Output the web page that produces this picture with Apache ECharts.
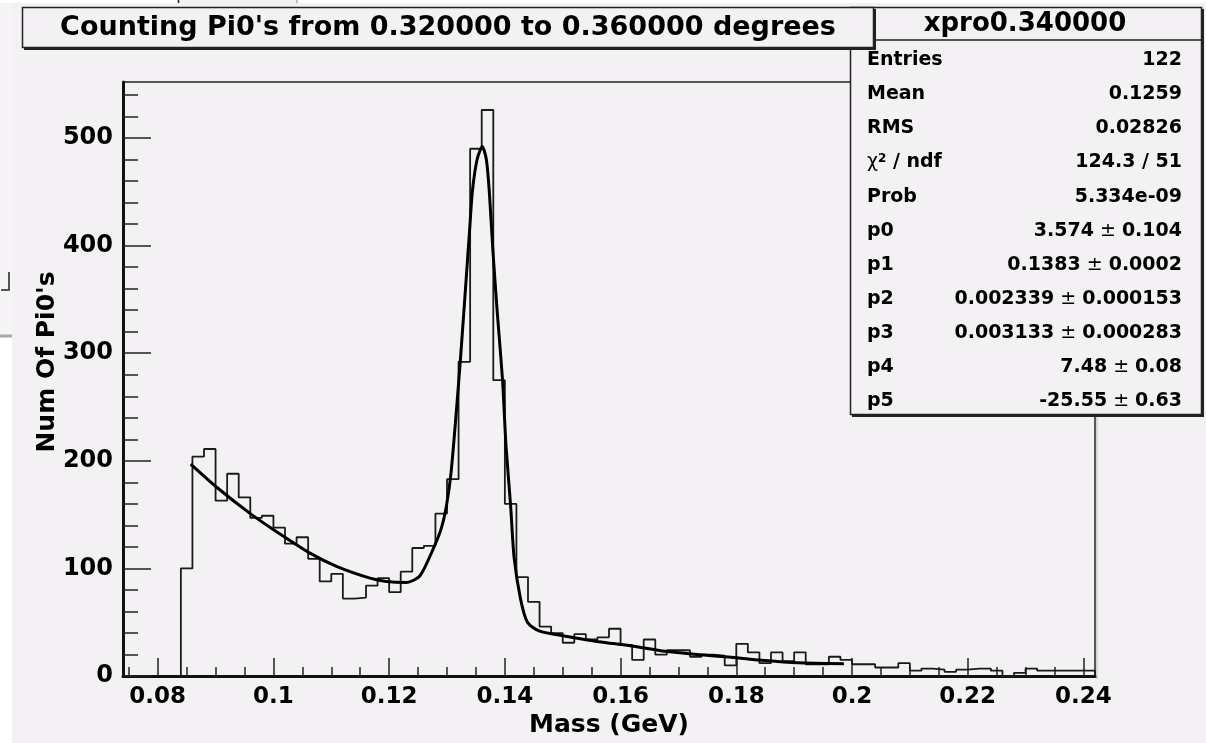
<!DOCTYPE html>
<html>
<head>
<meta charset="utf-8">
<script src="https://cdn.jsdelivr.net/npm/echarts@6/dist/echarts.min.js"></script>
<style>html,body{margin:0;padding:0;background:#fff;}#c{width:1206px;height:743px;}</style>
</head>
<body>
<div id="c"></div>
<script>
// ---- data ----
const binLow = [0.084,0.086,0.088,0.090,0.092,0.094,0.096,0.098,0.100,0.102,0.104,0.106,0.108,0.110,0.112,0.114,0.116,0.118,0.120,0.122,0.124,0.126,0.128,0.130,0.132,0.134,0.136,0.138,0.140,0.142,0.144,0.146,0.148,0.150,0.152,0.154,0.156,0.158,0.160,0.162,0.164,0.166,0.168,0.170,0.172,0.174,0.176,0.178,0.180,0.182,0.184,0.186,0.188,0.190,0.192,0.194,0.196,0.198,0.200,0.202,0.204,0.206,0.208,0.210,0.212,0.214,0.216,0.218,0.220,0.222,0.224,0.226,0.228,0.230,0.232,0.234,0.236,0.238,0.240];
const binWidth = 0.002;
const counts = [100,204,211,163,188,166,147,149,138,123,129,109,88,95,72,73,84,91,78,97,119,121,151,183,292,490,526,275,160,92,69,46,40,31,39,34,36,44,29,15,34,20,24,24,18,20,19,10,30,22,12,22,14,22,11,11,18,15,11,11,8,8,12,5,7,6,4,6,7,7,5,0,3,7,5,5,5,5,5];
const fitX = [0.0857,0.0903,0.0960,0.1006,0.1064,0.1109,0.1167,0.1195,0.1230,0.1253,0.1276,0.1290,0.1299,0.1307,0.1316,0.1324,0.1333,0.1339,0.1344,0.1352,0.1361,0.1368,0.1373,0.1379,0.1387,0.1396,0.1402,0.1410,0.1416,0.1427,0.1439,0.1459,0.1505,0.1562,0.1619,0.1677,0.1734,0.1791,0.1849,0.1906,0.1986];
const fitY = [197,175,151,134,114,102,91,88,87,93,118,137,158,189,245,300,368,414,451,480,492,480,451,398,337,275,214,158,110,72,50,42,37,32,28,23,20,17.5,14.4,12.3,11.5];
const xMajor = [0.08,0.1,0.12,0.14,0.16,0.18,0.2,0.22,0.24];
const xMinor = [0.075,0.085,0.09,0.095,0.105,0.11,0.115,0.125,0.13,0.135,0.145,0.15,0.155,0.165,0.17,0.175,0.185,0.19,0.195,0.205,0.21,0.215,0.225,0.23,0.235];
const yMajor = [0,100,200,300,400,500];
const yMinor = [20,40,60,80,120,140,160,180,220,240,260,280,320,340,360,380,420,440,460,480,520,540];
const titleText = "Counting Pi0's from 0.320000 to 0.360000 degrees";
const statsTitle = "xpro0.340000";
const statNames = ["Entries","Mean","RMS","{chi|χ}{sup|2}{b| / ndf}","Prob","p0","p1","p2","p3","p4","p5"];
const statValues = ["122","0.1259","0.02826","124.3 / 51","5.334e-09",
  "3.574{pm| ± }0.104","0.1383{pm| ± }0.0002","0.002339{pm| ± }0.000153",
  "0.003133{pm| ± }0.000283","7.48{pm| ± }0.08","-25.55{pm| ± }0.63"];
const xName = "Mass (GeV)";
const yName = "Num Of Pi0's";

// ---- build ----
const histPts = [[binLow[0], 0]];
for (let i = 0; i < binLow.length; i++) {
  histPts.push([binLow[i], counts[i]]);
  histPts.push([binLow[i] + binWidth, counts[i]]);
}
histPts.push([binLow[binLow.length - 1] + binWidth, 0]);
const fitPts = fitX.map((x, i) => [x, fitY[i]]);

const FONT = "'DejaVu Sans', 'Liberation Sans', Arial, sans-serif";
const BG = '#f4f1f4';

const graphics = [
  {type:'rect', z:-100, shape:{x:12,y:3,width:1194,height:740}, style:{fill:BG}},
  {type:'rect', z:-100, shape:{x:0,y:3,width:12,height:332}, style:{fill:'#f7f4f7'}},
  {type:'line', z:-90, shape:{x1:0,y1:336,x2:12,y2:336}, style:{stroke:'#a8a8a8', lineWidth:3}},
  {type:'polyline', z:-90, shape:{points:[[9,272],[9,290],[1,290]]}, style:{stroke:'#222', lineWidth:1.5, fill:null}},
  {type:'rect', z:-100, shape:{x:178,y:0,width:119,height:3}, style:{fill:BG}},
  {type:'line', z:-90, shape:{x1:178.5,y1:0,x2:178.5,y2:3}, style:{stroke:'#222', lineWidth:1.5}},
  {type:'line', z:-90, shape:{x1:297,y1:0,x2:297,y2:3}, style:{stroke:'#aaa', lineWidth:1.5}},
  {type:'line', z:-90, shape:{x1:1097,y1:82,x2:1097,y2:679}, style:{stroke:'#bbb', lineWidth:1}},
  // stats box
  {type:'rect', z:100, shape:{x:852,y:9,width:352,height:408}, style:{fill:'#222'}},
  {type:'rect', z:101, shape:{x:850.5,y:7.5,width:351,height:407}, style:{fill:BG, stroke:'#222', lineWidth:1.5}},
  {type:'line', z:102, shape:{x1:850,y1:40,x2:1202,y2:40}, style:{stroke:'#222', lineWidth:1.5}},
  {type:'text', z:103, x:1025, y:24, style:{text:statsTitle, font:'bold 26px ' + FONT, fill:'#000', align:'center', verticalAlign:'middle'}},
  // title box
  {type:'rect', z:110, shape:{x:24,y:9,width:852,height:41}, style:{fill:'#222'}},
  {type:'rect', z:111, shape:{x:22.5,y:7.5,width:851,height:40}, style:{fill:BG, stroke:'#222', lineWidth:1.5}},
  {type:'text', z:112, x:448, y:28, style:{text:titleText, font:'bold 27px ' + FONT, fill:'#000', align:'center', verticalAlign:'middle'}},
  // y axis title
  {type:'text', z:50, x:47, y:362, rotation:Math.PI/2, style:{text:yName, font:'bold 25px ' + FONT, fill:'#000', align:'center', verticalAlign:'middle'}}
];
const richStats = {
  b:{font:'bold 19px ' + FONT, fill:'#000'},
  chi:{font:'19px ' + FONT, fill:'#000'},
  sup:{font:'bold 12px ' + FONT, fill:'#000', verticalAlign:'top', padding:[0,0,8,0]},
  pm:{font:'19px ' + FONT, fill:'#000'}
};
for (let i = 0; i < statNames.length; i++) {
  const y = 60 + i * 34.15;
  graphics.push({type:'text', z:103, x:867, y:y, style:{text:statNames[i], font:'bold 19px ' + FONT, fill:'#000', align:'left', verticalAlign:'middle', rich:richStats}});
  graphics.push({type:'text', z:103, x:1182, y:y, style:{text:statValues[i], font:'bold 19px ' + FONT, fill:'#000', align:'right', verticalAlign:'middle', rich:richStats}});
}

const chart = echarts.init(document.getElementById('c'), null, {renderer:'canvas'});
chart.setOption({
  animation:false,
  backgroundColor:'#ffffff',
  grid:{left:123, right:111, top:82, bottom:65, show:true, borderColor:'#222', borderWidth:1.5, backgroundColor:'transparent'},
  xAxis:[
    {type:'value', min:0.074, max:0.242, position:'bottom',
     name:xName, nameLocation:'middle', nameGap:32,
     nameTextStyle:{fontFamily:FONT, fontWeight:'bold', fontSize:25, color:'#000', verticalAlign:'top'},
     axisLine:{show:true, onZero:false, lineStyle:{color:'#111', width:3}},
     axisTick:{show:true, inside:true, length:18, customValues:xMajor, lineStyle:{color:'#222', width:1.5}},
     axisLabel:{show:true, customValues:xMajor, margin:9, fontFamily:FONT, fontWeight:'bold', fontSize:23, color:'#000'},
     splitLine:{show:false}},
    {type:'value', min:0.074, max:0.242, position:'bottom',
     axisLine:{show:false},
     axisTick:{show:true, inside:true, length:9, customValues:xMinor, lineStyle:{color:'#222', width:1.5}},
     axisLabel:{show:false}, splitLine:{show:false}}
  ],
  yAxis:[
    {type:'value', min:0, max:552, position:'left',
     axisLine:{show:true, onZero:false, lineStyle:{color:'#111', width:3}},
     axisTick:{show:true, inside:true, length:28, customValues:yMajor, lineStyle:{color:'#222', width:1.5}},
     axisLabel:{show:true, customValues:yMajor, margin:10, fontFamily:FONT, fontWeight:'bold', fontSize:24, color:'#000'},
     splitLine:{show:false}},
    {type:'value', min:0, max:552, position:'left',
     axisLine:{show:false},
     axisTick:{show:true, inside:true, length:15, customValues:yMinor, lineStyle:{color:'#222', width:1.5}},
     axisLabel:{show:false}, splitLine:{show:false}}
  ],
  series:[
    {type:'line', name:'hist', data:histPts, xAxisIndex:0, yAxisIndex:0, symbol:'none',
     lineStyle:{color:'#1a1a1a', width:1.8}, z:3},
    {type:'line', name:'fit', data:fitPts, xAxisIndex:0, yAxisIndex:0, symbol:'none', smooth:0.25,
     lineStyle:{color:'#000', width:3}, z:4}
  ],
  graphic:graphics
});
</script>
</body>
</html>
